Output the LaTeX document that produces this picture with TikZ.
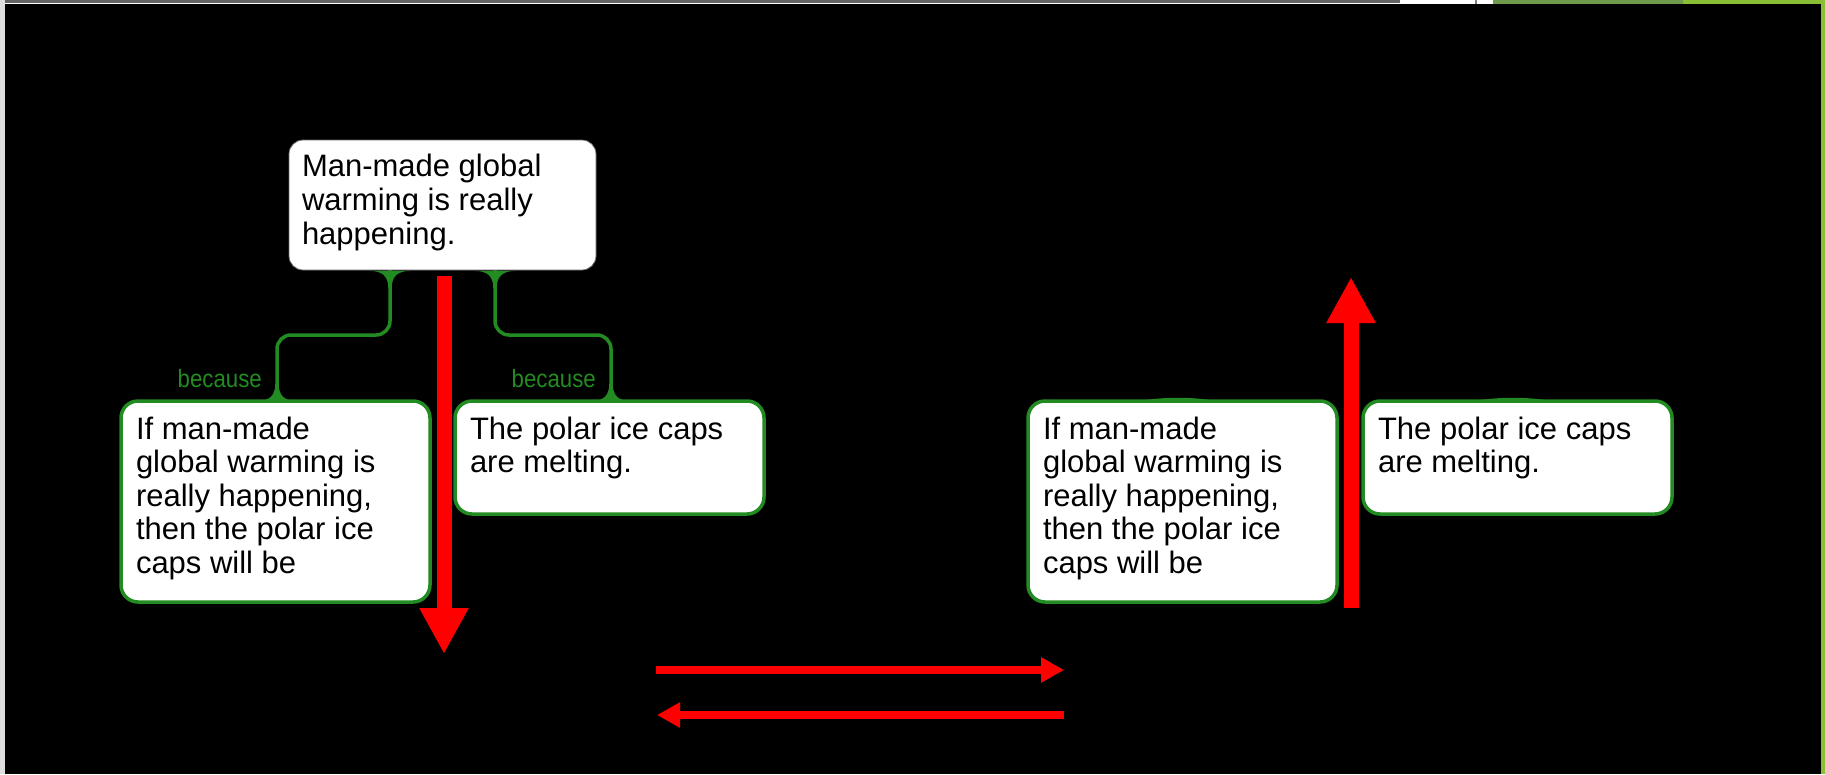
\documentclass[tikz,border=0pt]{standalone}
\usepackage{fontspec}
\setmainfont{Liberation Sans}
\usetikzlibrary{arrows.meta,calc}
\definecolor{argGreen}{RGB}{34,139,34}
\definecolor{barOlive}{RGB}{112,154,76}
\definecolor{barLime}{RGB}{138,190,52}
\definecolor{edgeGray}{RGB}{100,100,100}
\definecolor{sideGray}{RGB}{222,222,222}

\begin{document}
\begin{tikzpicture}[x=1pt,y=-1pt,
  claim/.style={anchor=north west, fill=white, draw=black!60, line width=0.8pt,
    outer sep=0pt, rounded corners=14pt, inner xsep=13pt, inner ysep=13pt,
    font=\fontsize{31}{34}\selectfont},
  premise/.style={anchor=north west, fill=white, draw=argGreen, line width=3.5pt,
    outer sep=0pt, rounded corners=17pt, inner xsep=15pt, inner ysep=15pt,
    font=\fontsize{31}{33.5}\selectfont},
  link/.style={draw=argGreen, line width=3.5pt, rounded corners=14pt},
  because/.style={text=argGreen, font=\fontsize{25}{27}\selectfont,
    anchor=base east, inner sep=0pt},
  bigarrow/.style={draw=red, line width=15pt, -{Triangle[width=46pt,length=46pt]}},
  thinarrow/.style={draw=red, line width=7.5pt, -{Triangle[width=24pt,length=23pt]}},
  foot down/.pic={\fill[argGreen] (-20,0) .. controls (-8,0) and (-1.75,5) .. (-1.75,17)
      -- (1.75,17) .. controls (1.75,5) and (8,0) .. (20,0) -- cycle;},
  foot up/.pic={\fill[argGreen] (-20,0) .. controls (-8,0) and (-1.75,-5) .. (-1.75,-17)
      -- (1.75,-17) .. controls (1.75,-5) and (8,0) .. (20,0) -- cycle;},
  stub/.pic={\fill[argGreen] (-32,0) .. controls (-12,-3) and (12,-3) .. (32,0) -- cycle;}
]
% page, frame and window edge
\useasboundingbox (0,0) rectangle (1825,774);
\fill[white] (0,0) rectangle (1825,774);
\fill[sideGray] (0,0) rectangle (5,774);
\fill[edgeGray] (5,0) rectangle (1400,3);
\fill[black] (5,4) rectangle (1821,774);
\fill[gray] (1475,0) rectangle (1477,4);
\fill[barOlive] (1493,0) rectangle (1683,4);
\fill[barLime] (1683,0) rectangle (1825,4);
\fill[barLime] (1821,0) rectangle (1825,774);

% ---------- left argument map ----------
\node[claim] (T) at (289,140)
  {\parbox[t][104pt][t]{281pt}{\raggedright\strut Man-made global\\warming is really\\happening.}};
\node[premise] (L1) at (121,401)
  {\parbox[t][171pt][t]{279pt}{\raggedright\strut If man-made\\global warming is\\really happening,\\then the polar ice\\caps will be}};
\node[premise] (R1) at (455,401)
  {\parbox[t][83pt][t]{279pt}{\raggedright\strut The polar ice caps\\are melting.}};

\draw[link] ($(T.south west)+(101,0)$) -- ++(0,65) -| ($(L1.north west)+(156,0)$);
\draw[link] ($(T.south west)+(206,0)$) -- ++(0,65) -| ($(R1.north west)+(156,0)$);
\pic at ($(T.south west)+(101,1)$) {foot down};
\pic at ($(T.south west)+(206,1)$) {foot down};
\pic at ($(L1.north west)+(156,0)$) {foot up};
\pic at ($(R1.north west)+(156,0)$) {foot up};
\node[because] (b1) at ($(L1.north west)+(141,-14)$) {\scalebox{0.89}[1]{because}};
\node[because] (b2) at ($(R1.north west)+(141,-14)$) {\scalebox{0.89}[1]{because}};

\coordinate (downTip) at (444,654);
\draw[bigarrow] ($(T.south west)+(155,6)$) -- (downTip);

% ---------- right group ----------
\node[premise] (L2) at (1028,401)
  {\parbox[t][171pt][t]{279pt}{\raggedright\strut If man-made\\global warming is\\really happening,\\then the polar ice\\caps will be}};
\node[premise] (R2) at (1363,401)
  {\parbox[t][83pt][t]{279pt}{\raggedright\strut The polar ice caps\\are melting.}};
\pic at ($(L2.north west)+(150,-1)$) {stub};
\pic at ($(R2.north west)+(150,-1)$) {stub};

\coordinate (upTip) at (1351,277);
\draw[bigarrow] ($(upTip |- L2.south)+(0,6)$) -- (upTip);

% ---------- transition arrows ----------
\coordinate (fwdStart) at (656,670);
\coordinate (fwdEnd) at (1064,670);
\coordinate (backStart) at (1064,715);
\coordinate (backEnd) at (657,715);
\draw[thinarrow] (fwdStart) -- (fwdEnd);
\draw[thinarrow] (backStart) -- (backEnd);
\end{tikzpicture}
\end{document}
